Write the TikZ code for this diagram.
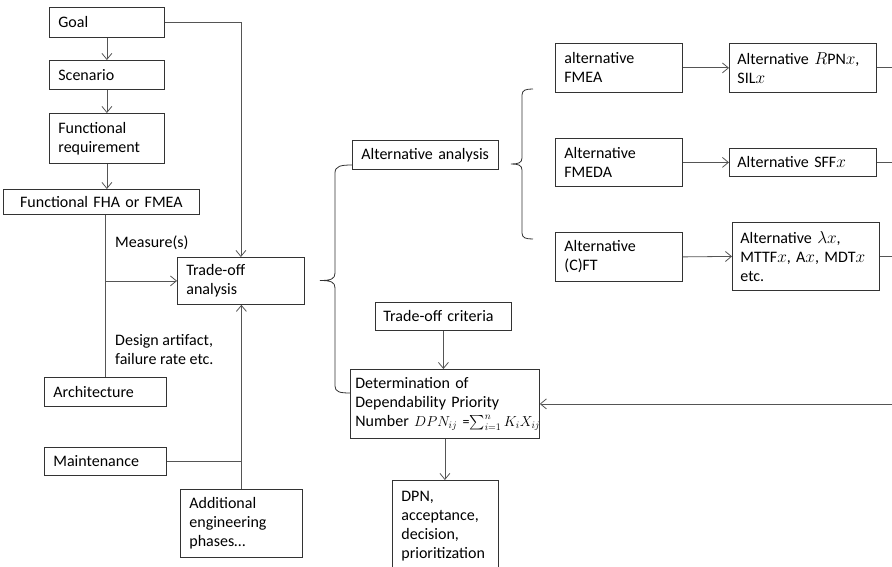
\documentclass[tikz,border=0pt]{standalone}
\usepackage{amsmath}
\usepackage{fontspec}
\setmainfont{Carlito}
\usepackage{tikz}
\usetikzlibrary{arrows.meta, positioning}
\definecolor{boxframe}{HTML}{333333}
\definecolor{linecolor}{HTML}{555555}

\begin{document}
\begin{tikzpicture}[x=1pt, y=-1pt, every node/.style={font=\fontsize{16}{19}\selectfont}]
\tikzstyle{bx}=[draw=boxframe, line width=0.8pt, anchor=north west, align=left, inner xsep=9pt, inner ysep=0pt]
\tikzstyle{ar}=[-{Straight Barb[length=6pt, width=10pt]}, line width=0.8pt, color=linecolor]
\tikzstyle{ln}=[line width=0.8pt, color=linecolor]
\tikzstyle{brc}=[line width=0.8pt, color=boxframe]
\tikzstyle{lbl}=[anchor=west, align=left, inner sep=0pt]

\useasboundingbox (0,0) rectangle (892,567);
\clip (0,0) rectangle (892,567);

% left column
\node[bx, text width=97pt, minimum height=30pt](goal) at (49,7){Goal};
\node[bx, text width=97pt, minimum height=29pt](scen) at (49,60){Scenario};
\node[bx, text width=97pt, minimum height=50pt](freq) at (49,113){Functional\\requirement};
\node[bx, text width=186pt, minimum height=25pt, inner xsep=5pt, align=center](fha) at (3,189){Functional FHA or FMEA};
\node[bx, text width=104pt, minimum height=29pt](arch) at (44,377){Architecture};
\node[bx, text width=104pt, minimum height=28pt](maint) at (44,447){Maintenance};
\node[bx, text width=104pt, minimum height=68pt](addl) at (180,489){Additional\\engineering\\phases\dots};
\node[bx, text width=109pt, minimum height=47pt](trade) at (177,257){Trade-off\\analysis};

\node[lbl](meas) at (115,243){Measure(s)};
\node[lbl](desg) at (115,350){Design artifact,\\failure rate etc.};

% alternatives
\node[bx, text width=128pt, minimum height=29pt](alt) at (352,140){Alternative analysis};
\node[bx, text width=109pt, minimum height=49pt](fmea) at (555,43){alternative\\FMEA};
\node[bx, text width=109pt, minimum height=48pt](fmeda) at (555,138){Alternative\\FMEDA};
\node[bx, text width=109pt, minimum height=49pt](cft) at (555,232){Alternative\\(C)FT};
\node[bx, text width=131pt, minimum height=49pt, inner xsep=8pt](rpn) at (729,43){Alternative $R\mathrm{PN}x$,\\SIL$x$};
\node[bx, text width=131pt, minimum height=28pt, inner xsep=8pt](sff) at (729,148){Alternative SFF$x$};
\node[bx, text width=131pt, minimum height=68pt, inner xsep=8pt](lam) at (732,222){Alternative $\lambda x$,\\MTTF$x$, A$x$, MDT$x$\\etc.};

% DPN
\node[bx, text width=120pt, minimum height=28pt, inner xsep=8pt](crit) at (375,302){Trade-off criteria};
\node[bx, text width=179pt, minimum height=69pt, inner xsep=5pt](dpn) at (350,369){Determination of\\Dependability Priority\\\mbox{Number {\fontsize{14}{19}\selectfont$DPN_{ij}$ =$\sum_{i=1}^{n} K_iX_{ij}$}}};
\node[bx, text width=88pt, minimum height=91pt](res) at (392,480){DPN,\\acceptance,\\decision,\\prioritization};

\draw[ar](goal.south) -- (scen.north);
\draw[ar](scen.south) -- (freq.north);
\draw[ar](freq.south) -- (freq.south |- fha.north);
\draw[ar](goal.east) -| (trade.north);
\draw[ln](arch.north) -- (arch.north |- fha.south);
\coordinate (jn) at (arch.north |- trade.west);
\draw[ar](jn) -- (trade.west);
\draw[ar](addl.north) -- (addl.north |- trade.south);
\draw[ln](maint.east) -- (maint.east -| addl.north);

\draw[ar](fmea.east) -- (rpn.west);
\draw[ar](fmeda.east) -- (sff.west);
\draw[ar](cft.east) -- (lam.west);
\coordinate (rt) at (905,0);
\draw[ln](rpn.east) -| (rt |- dpn.east);
\draw[ln](sff.east) -- (sff.east -| rt);
\draw[ln](lam.east) -- (lam.east -| rt);
\draw[ar](rt |- dpn.east) -- (dpn.east);
\draw[ar](crit.south) -- (crit.south |- dpn.north);
\draw[ar](dpn.south) -- (dpn.south |- res.north);

% braces
\draw[brc](352,165) .. controls (341,165) and (335,166) .. (335,173) -- (335,273) .. controls (335,279) and (331,280.5) .. (320,280.5) .. controls (331,280.5) and (335,282) .. (335,288) -- (335,386) .. controls (335,392) and (340,393) .. (350,393);
\draw[brc](533,89) .. controls (526,89) and (522,90) .. (522,95) -- (522,158) .. controls (522,163) and (518,164) .. (511,164) .. controls (518,164) and (522,165) .. (522,170) -- (522,233) .. controls (522,238) and (526,239) .. (533,239);
\end{tikzpicture}
\end{document}
